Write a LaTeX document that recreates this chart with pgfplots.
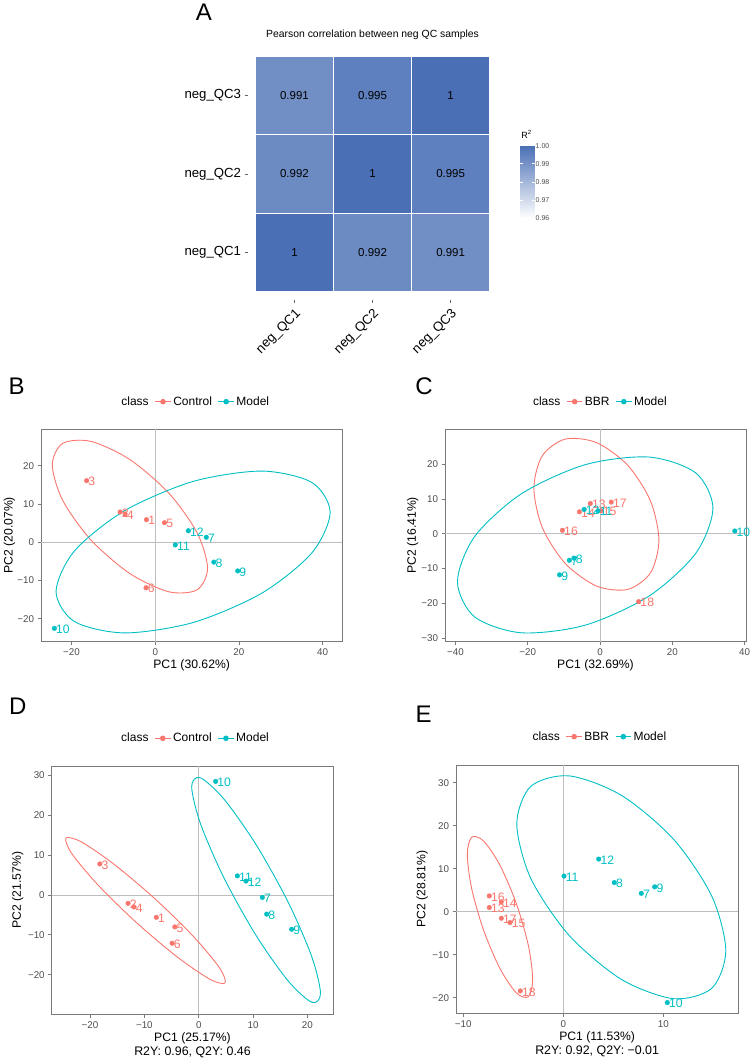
\documentclass[border=0pt]{standalone}
\usepackage{fontspec}
\setmainfont{Liberation Sans}
\usepackage{pgfplots}
\pgfplotsset{compat=1.18}

\definecolor{ggred}{HTML}{F8766D}
\definecolor{ggcyan}{HTML}{00BFC4}
\definecolor{framegray}{HTML}{7A7A7A}
\definecolor{zerogray}{HTML}{BEBEBE}
\definecolor{tickgray}{HTML}{4D4D4D}
\newcommand{\fs}[1]{\fontsize{#1}{#1}\selectfont}

\pgfplotsset{
  pca/.style={
    scale only axis, clip=false,
    axis line style={draw=framegray, line width=0.9pt},
    tick align=outside, xtick pos=bottom, ytick pos=left,
    major tick length=3.5pt,
    every tick/.style={draw=framegray, line width=0.8pt},
    tick label style={font=\fs{9.8}, text=tickgray},
    every axis x label/.style={at={(axis description cs:0.5,0)}, yshift=-24pt, anchor=center, font=\fs{12.2}},
    legend style={draw=none, fill=none, legend columns=-1, font=\fs{12},
      anchor=center, inner sep=0pt,
      /tikz/every even column/.append style={column sep=4pt}},
    legend image code/.code={\draw[mark repeat=2, mark phase=2, #1, sharp plot, line width=0.9pt]
      plot coordinates {(0pt,0pt) (7.8pt,0pt) (15.6pt,0pt)};},
  },
  ylab/.style={every axis y label/.style={at={(axis description cs:0,0.5)}, xshift=#1, rotate=90, anchor=center, font=\fs{12.2}}},
  ell/.style={smooth cycle, line width=0.9pt, forget plot, draw=#1},
  pts/.style={only marks, mark=*, mark size=2.3pt, color=#1,
    nodes near coords, point meta=explicit symbolic,
    every node near coord/.append style={anchor=west, font=\fs{12.2}, text=#1, inner sep=0pt, xshift=1.6pt, yshift=-1pt}},
  zero/.style={draw=zerogray, line width=0.9pt, forget plot},
}

\begin{document}
\begin{tikzpicture}
\path[use as bounding box] (0,0) rectangle (753pt,1062pt);

% panel letters
\node[font=\fs{24}, inner sep=0pt] at (204pt,1050pt) {A};
\node[font=\fs{24}, inner sep=0pt] at (16.7pt,675.3pt) {B};
\node[font=\fs{24}, inner sep=0pt] at (424pt,675.3pt) {C};
\node[font=\fs{24}, inner sep=0pt] at (17.7pt,355.3pt) {D};
\node[font=\fs{24}, inner sep=0pt] at (423.5pt,347.5pt) {E};

% A: correlation heatmap
\begin{axis}[scale only axis, at={(247.6pt,762.4pt)}, anchor=south west,
  width=249.9pt, height=251.5pt,
  xmin=-0.6, xmax=2.6, ymin=-0.6, ymax=2.6,
  axis line style={draw=none},
  xtick={0,1,2}, ytick={0,1,2},
  xticklabels={neg\_QC1,neg\_QC2,neg\_QC3},
  yticklabels={neg\_QC1,neg\_QC2,neg\_QC3},
  tick align=outside, xtick pos=bottom, ytick pos=left, major tick length=3pt,
  every tick/.style={draw=black!60, line width=0.6pt},
  xticklabel style={rotate=45, anchor=north east, font=\fs{13.2}},
  yticklabel style={font=\fs{13.2}},
  title={Pearson correlation between neg QC samples},
  title style={font=\fs{10.4}, at={(axis description cs:0.5,1)}, anchor=center, yshift=7.4pt},
  colormap={qc}{rgb255=(255,255,255) rgb255=(74,111,181)},
  point meta min=0.96, point meta max=1,
  colorbar,
  colorbar style={at={(parent axis.north east)}, anchor=north west,
    xshift=14.2pt, yshift=-97.6pt, width=14.3pt, height=72.3pt,
    ytick={0.96,0.97,0.98,0.99,1}, yticklabels={0.96,0.97,0.98,0.99,1.00},
    yticklabel style={font=\fs{7}, text=tickgray, inner sep=1pt},
    axis line style={draw=none}, ytick pos=both, yticklabel pos=right,
    major tick length=2.5pt, tick align=inside,
    every tick/.style={draw=white, line width=0.6pt},
    title={R\textsuperscript{2}},
    title style={at={(0,1)}, anchor=south west, font=\fs{9}, inner sep=1pt}},
]
\addplot[matrix plot*, mesh/cols=3, point meta=explicit, draw=white, line width=0.5pt] table[meta=r] {
x y r
0 0 1
1 0 0.992
2 0 0.991
0 1 0.992
1 1 1
2 1 0.995
0 2 0.991
1 2 0.995
2 2 1
};
\addplot[draw=none, nodes near coords, point meta=explicit symbolic,
  every node near coord/.append style={anchor=center, font=\fs{11.5}}] table[meta=lab] {
x y lab
0 0 1
1 0 0.992
2 0 0.991
0 1 0.992
1 1 1
2 1 0.995
0 2 0.991
1 2 0.995
2 2 1
};
\end{axis}

% B: PCA Control vs Model
\begin{axis}[pca, ylab=-31.5pt, at={(41pt,420.3pt)}, anchor=south west,
  width=301.3pt, height=212.7pt,
  xmin=-27.3, xmax=44.7, ymin=-26.0, ymax=29.6,
  xtick={-20,0,20,40}, xticklabels={−20,0,20,40},
  ytick={-20,-10,0,10,20}, yticklabels={−20,−10,0,10,20},
  xlabel={PC1 (30.62\%)}, ylabel={PC2 (20.07\%)},
  legend style={at={(axis description cs:0.512,1)}, yshift=27.3pt}]
\addlegendimage{empty legend}\addlegendentry{class}
\addplot[zero] coordinates {(0,-26.0) (0,29.6)};
\addplot[zero] coordinates {(-27.3,0) (44.7,0)};
\addplot[ell=ggred] coordinates {(12.5,-6.8) (10.01,2.46) (3.23,12.85) (-6.05,21.6) (-15.33,26.35) (-22.11,25.84) (-24.6,20.2) (-22.11,10.94) (-15.33,0.55) (-6.05,-8.2) (3.23,-12.95) (10.01,-12.44)};
\addplot[ell=ggcyan] coordinates {(41.8,7.8) (37.41,15.63) (25.43,18.60) (9.05,15.89) (-7.33,8.24) (-19.31,-2.29) (-23.7,-12.9) (-19.31,-20.73) (-7.33,-23.70) (9.05,-20.99) (25.43,-13.34) (37.41,-2.81)};
\addplot[pts=ggred] coordinates {(-2.1,5.9) [1] (-8.4,7.9) [2] (-16.4,16.1) [3] (-7.2,7.4) [4] (2.2,5.1) [5] (-2.2,-11.9) [6]};
\addlegendentry{Control}
\addplot[pts=ggcyan] coordinates {(12.2,1.3) [7] (14.0,-5.2) [8] (19.7,-7.5) [9] (-24.1,-22.5) [10] (4.8,-0.7) [11] (7.9,3.0) [12]};
\addlegendentry{Model}
\end{axis}

% C: PCA BBR vs Model
\begin{axis}[pca, ylab=-32.3pt, at={(445pt,420.3pt)}, anchor=south west,
  width=301pt, height=212.7pt,
  xmin=-42.9, xmax=40.4, ymin=-31.0, ymax=30.1,
  xtick={-40,-20,0,20,40}, xticklabels={−40,−20,0,20,40},
  ytick={-30,-20,-10,0,10,20}, yticklabels={−30,−20,−10,0,10,20},
  xlabel={PC1 (32.69\%)}, ylabel={PC2 (16.41\%)},
  legend style={at={(axis description cs:0.5146,1)}, yshift=27.3pt}]
\addlegendimage{empty legend}\addlegendentry{class}
\addplot[zero] coordinates {(0,-31.0) (0,30.1)};
\addplot[zero] coordinates {(-42.9,0) (40.4,0)};
\addplot[ell=ggred] coordinates {(16.3,-1.9) (13.98,9.4) (7.65,19.69) (-1.0,26.2) (-9.65,27.19) (-15.98,22.4) (-18.3,13.1) (-15.98,1.8) (-9.65,-8.49) (-1.0,-15.0) (7.65,-15.99) (13.98,-11.2)};
\addplot[ell=ggcyan] coordinates {(31.25,7.35) (26.51,17.47) (13.58,22.04) (-4.1,19.85) (-21.78,11.48) (-34.71,-0.81) (-39.45,-13.75) (-34.71,-23.87) (-21.78,-28.44) (-4.1,-26.25) (13.58,-17.88) (26.51,-5.59)};
\addplot[pts=ggred] coordinates {(-2.7,8.7) [13] (-5.7,6.3) [14] (0.3,6.6) [15] (-10.4,1.0) [16] (3.1,9.1) [17] (10.7,-19.5) [18]};
\addlegendentry{BBR}
\addplot[pts=ggcyan] coordinates {(-8.5,-7.6) [7] (-7.2,-7.0) [8] (-11.2,-11.8) [9] (37.3,0.8) [10] (-0.55,6.6) [11] (-4.4,7.0) [12]};
\addlegendentry{Model}
\end{axis}

% D: PLS-DA Control vs Model
\begin{axis}[pca, ylab=-33.9pt, at={(51.7pt,47.7pt)}, anchor=south west,
  width=281.6pt, height=248.3pt,
  xmin=-27.05, xmax=24.76, ymin=-29.93, ymax=32.37,
  xtick={-20,-10,0,10,20}, xticklabels={−20,−10,0,10,20},
  ytick={-20,-10,0,10,20,30}, yticklabels={−20,−10,0,10,20,30},
  xlabel={PC1 (25.17\%)}, ylabel={PC2 (21.57\%)},
  legend style={at={(axis description cs:0.509,1)}, yshift=27.7pt}]
\addlegendimage{empty legend}\addlegendentry{class}
\addplot[zero] coordinates {(0,-29.93) (0,32.37)};
\addplot[zero] coordinates {(-27.05,0) (24.76,0)};
\addplot[ell=ggred] coordinates {(4.84,-22.09) (3.81,-18.25) (-0.86,-10.57) (-7.93,-1.10) (-15.5,7.63) (-21.53,13.27) (-24.42,14.31) (-23.39,10.47) (-18.72,2.79) (-11.65,-6.68) (-4.08,-15.41) (1.95,-21.05)};
\addplot[ell=ggcyan] coordinates {(22.4,-24.7) (20.81,-15.52) (16.48,-1.86) (10.55,12.65) (4.62,24.10) (0.29,29.42) (-1.3,27.2) (0.29,18.02) (4.62,4.36) (10.55,-10.15) (16.48,-21.6) (20.81,-26.92)};
\addplot[pts=ggred] coordinates {(-7.8,-5.6) [1] (-13.0,-2.1) [2] (-18.2,7.8) [3] (-11.9,-3.0) [4] (-4.4,-8.0) [5] (-4.9,-12.1) [6]};
\addlegendentry{Control}
\addplot[pts=ggcyan] coordinates {(11.7,-0.6) [7] (12.5,-4.8) [8] (17.1,-8.6) [9] (3.1,28.5) [10] (7.1,4.8) [11] (8.7,3.5) [12]};
\addlegendentry{Model}
\node[font=\fs{12.4}] at (axis description cs:0.5,0) [yshift=-38.4pt] {R2Y: 0.96, Q2Y: 0.46};
\end{axis}

% E: PLS-DA BBR vs Model
\begin{axis}[pca, ylab=-33.7pt, at={(456pt,48.7pt)}, anchor=south west,
  width=282.3pt, height=248.3pt,
  xmin=-10.73, xmax=17.5, ymin=-23.6, ymax=34.14,
  xtick={-10,0,10}, xticklabels={−10,0,10},
  ytick={-20,-10,0,10,20,30}, yticklabels={−20,−10,0,10,20,30},
  xlabel={PC1 (11.53\%)}, ylabel={PC2 (28.81\%)},
  legend style={at={(axis description cs:0.508,1)}, yshift=28.3pt}]
\addlegendimage{empty legend}\addlegendentry{class}
\addplot[zero] coordinates {(0,-23.6) (0,34.14)};
\addplot[zero] coordinates {(-10.73,0) (17.5,0)};
\addplot[ell=ggred] coordinates {(-3.06,-15.7) (-3.50,-7.76) (-4.70,1.94) (-6.33,10.8) (-7.96,16.44) (-9.16,17.36) (-9.6,13.3) (-9.16,5.36) (-7.96,-4.34) (-6.33,-13.2) (-4.70,-18.84) (-3.50,-19.76)};
\addplot[ell=ggcyan] coordinates {(16.25,-9.05) (14.85,3.63) (11.03,16.86) (5.8,27.1) (0.575,31.61) (-3.25,29.17) (-4.65,20.45) (-3.25,7.77) (0.575,-5.46) (5.8,-15.7) (11.03,-20.2) (14.85,-17.77)};
\addplot[pts=ggred] coordinates {(-7.4,1.0) [13] (-6.2,2.3) [14] (-5.33,-2.5) [15] (-7.4,3.7) [16] (-6.2,-1.5) [17] (-4.3,-18.4) [18]};
\addlegendentry{BBR}
\addplot[pts=ggcyan] coordinates {(7.8,4.3) [7] (5.1,6.8) [8] (9.14,5.8) [9] (10.4,-21.1) [10] (0.07,8.3) [11] (3.54,12.26) [12]};
\addlegendentry{Model}
\node[font=\fs{12.4}] at (axis description cs:0.5,0) [yshift=-38.4pt] {R2Y: 0.92, Q2Y: −0.01};
\end{axis}
\end{tikzpicture}
\end{document}
